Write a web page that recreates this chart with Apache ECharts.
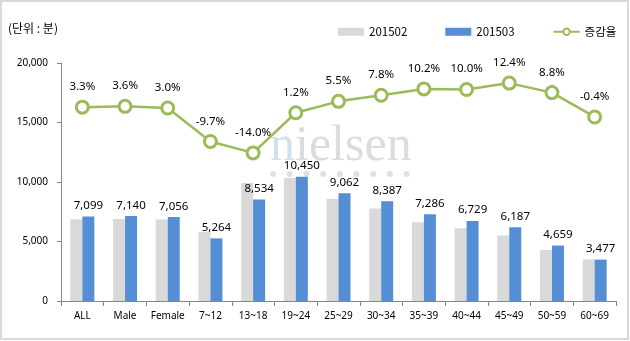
<!DOCTYPE html>
<html>
<head>
<meta charset="utf-8">
<script src="https://cdn.jsdelivr.net/npm/echarts@6/dist/echarts.min.js"></script>
<style>
html,body{margin:0;padding:0;background:#fff;}
#chart{width:630px;height:341px;}
</style>
</head>
<body>
<div id="chart"></div>
<script>
const categories = ['ALL','Male','Female','7~12','13~18','19~24','25~29','30~34','35~39','40~44','45~49','50~59','60~69'];
const feb = [6872, 6892, 6851, 5829, 9923, 10326, 8590, 7780, 6612, 6117, 5504, 4282, 3491];
const mar = [7099, 7140, 7056, 5264, 8534, 10450, 9062, 8387, 7286, 6729, 6187, 4659, 3477];
const rate = [3.3, 3.6, 3.0, -9.7, -14.0, 1.2, 5.5, 7.8, 10.2, 10.0, 12.4, 8.8, -0.4];
const yTicks = [0, 5000, 10000, 15000, 20000];

const FONT = '"Noto Sans", "Noto Sans CJK KR", sans-serif';
const chart = echarts.init(document.getElementById('chart'), null, {renderer: 'canvas'});

const dots = [];
for (let i = 0; i < 9; i++) {
  dots.push({type: 'circle', z: -5, silent: true,
    shape: {cx: 273 + i * 16.7, cy: 174, r: 3}, style: {fill: '#E0E0E0'}});
}

chart.setOption({
  animation: false,
  textStyle: {fontFamily: FONT},
  graphic: [
    {type: 'rect', z: -10, silent: true, shape: {x: 1, y: 1, width: 627, height: 338},
      style: {fill: '#fff', stroke: '#D9D9D9', lineWidth: 2}},
    {type: 'text', z: -5, silent: true, left: 8, top: 22,
      style: {text: '(단위 : 분)', font: '12px "Noto Sans CJK KR"', fill: '#000'}},
    {type: 'text', z: -5, silent: true, x: 270, y: 147,
      style: {
        text: '{a|n}{b|ielsen}',
        verticalAlign: 'middle',
        rich: {
          a: {fontFamily: '"Liberation Serif", serif', fontSize: 50, fill: '#CFE3EF', color: '#CFE3EF'},
          b: {fontFamily: '"Liberation Serif", serif', fontSize: 50, fill: '#DCDCDC', color: '#DCDCDC'}
        }
      }},
    ...dots
  ],
  legend: {
    left: 333, top: 21,
    itemWidth: 26, itemHeight: 8, itemGap: 38,
    textStyle: {fontSize: 11.5, color: '#000', fontFamily: '"Noto Sans CJK KR", sans-serif'},
    data: [
      {name: '201502', icon: 'rect'},
      {name: '201503', icon: 'rect'},
      {name: '증감율'}
    ]
  },
  grid: {left: 61, right: 14, top: 63, bottom: 40, containLabel: false},
  xAxis: {
    type: 'category',
    data: categories,
    boundaryGap: true,
    axisLine: {lineStyle: {color: '#868686', width: 1}},
    axisTick: {show: true, length: 5, alignWithLabel: false, lineStyle: {color: '#868686'}},
    axisLabel: {color: '#000', fontSize: 10, margin: 10, interval: 0}
  },
  yAxis: [
    {
      type: 'value', min: 0, max: 20000, interval: 5000,
      axisLine: {show: true, lineStyle: {color: '#868686'}},
      axisTick: {show: true, length: 4, lineStyle: {color: '#868686'}},
      splitLine: {show: false},
      axisLabel: {color: '#000', fontSize: 10, margin: 13,
        formatter: v => yTicks.includes(v) ? v.toLocaleString('en-US') : ''}
    },
    {
      type: 'value', min: -70, max: 20, interval: 10, show: false,
      splitLine: {show: false}
    }
  ],
  series: [
    {
      name: '201502', type: 'bar', data: feb, barWidth: 12, barGap: '0%',
      itemStyle: {color: '#D9D9D9'}, z: 2
    },
    {
      name: '201503', type: 'bar', data: mar, barWidth: 12,
      itemStyle: {color: '#558ED5'}, z: 2,
      label: {show: true, position: 'top', distance: 5, color: '#000', fontSize: 11.5,
        formatter: p => p.value.toLocaleString('en-US')}
    },
    {
      name: '증감율', type: 'line', yAxisIndex: 1, data: rate,
      symbol: 'circle', symbolSize: 12,
      lineStyle: {color: '#9BBB59', width: 2.5},
      itemStyle: {color: '#fff', borderColor: '#9BBB59', borderWidth: 3},
      z: 5,
      label: {show: true, position: 'top', distance: 7, color: '#000', fontSize: 11.5,
        formatter: p => p.value.toFixed(1) + '%'}
    }
  ]
});
</script>
</body>
</html>
